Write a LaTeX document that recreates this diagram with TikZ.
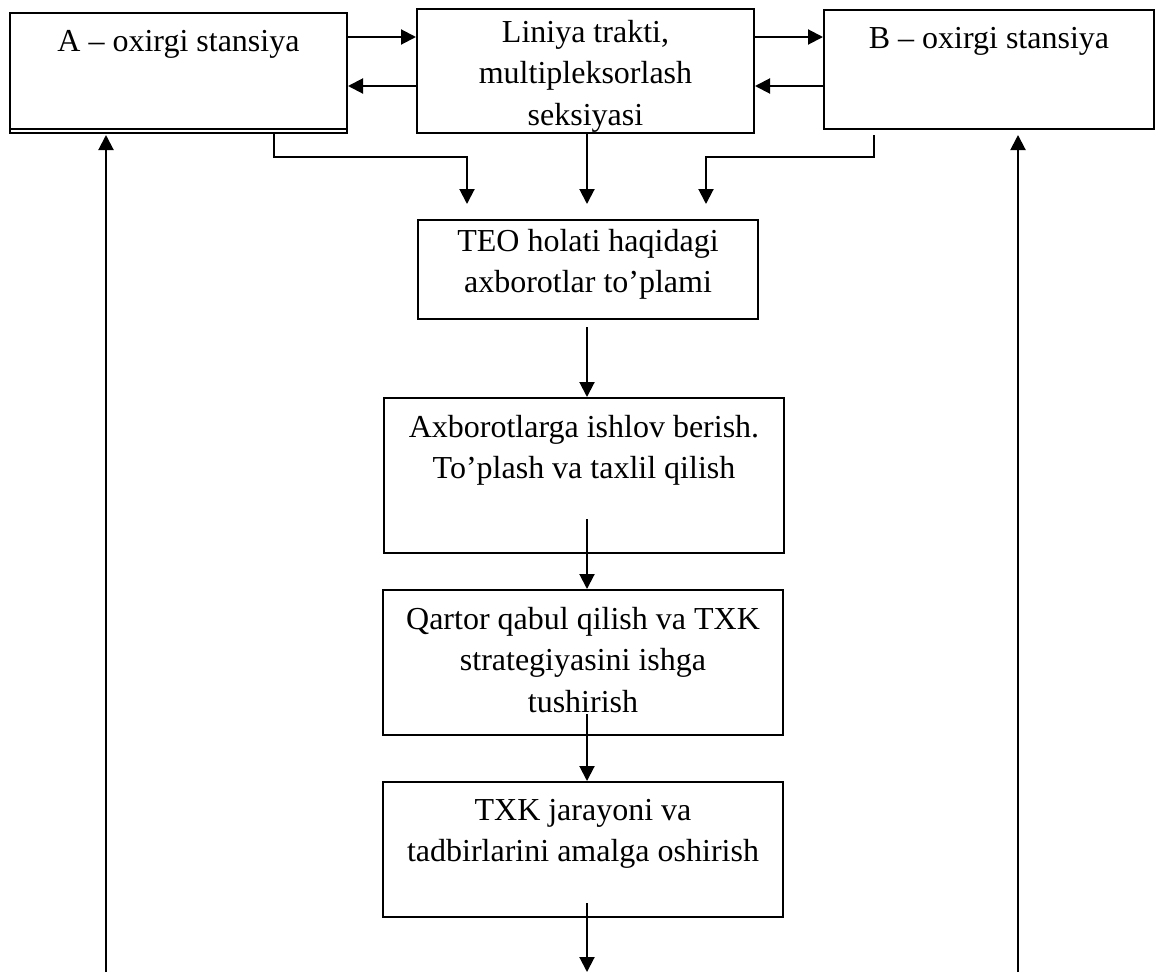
\documentclass[tikz,border=0pt]{standalone}
\usepackage{fontspec}
\setmainfont{Liberation Serif}
\usetikzlibrary{arrows.meta}
\tikzset{
blok/.style={ % plain rectangle of a block
draw,
line width=2pt,
inner sep=0pt},
yozuv/.style={ % text set at the top of a block
anchor=north,
align=center,
inner sep=0pt,
font=\fontsize{32}{41.5}\selectfont},
strelka/.style={ % connector with a filled head
draw,
line width=2pt,
-{Triangle[length=15pt,width=15pt]}}}

\begin{document}
\begin{tikzpicture}[x=1pt, y=-1pt]
\useasboundingbox (0,0) rectangle (1155,972);
% blocks
\node[blok, minimum width=337pt, minimum height=120pt] (A) at (178.5,73) {};
\node[blok, minimum width=337pt, minimum height=124pt] (L) at (585.5,71) {};
\node[blok, minimum width=330pt, minimum height=119pt] (B) at (989,69.5) {};
\node[blok, minimum width=340pt, minimum height=99pt] (TEO) at (588,269.5) {};
\node[blok, minimum width=400pt, minimum height=155pt] (Ax) at (584,475.5) {};
\node[blok, minimum width=400pt, minimum height=145pt] (Qa) at (583,662.5) {};
\node[blok, minimum width=400pt, minimum height=135pt] (TX) at (583,849.5) {};
\draw[line width=1.4pt] ([yshift=5pt]A.south west) -- ([yshift=5pt]A.south east);
% texts
\node[yozuv] (Atxt) at ([yshift=-18pt]A.north) {A – oxirgi stansiya};
\node[yozuv] (Ltxt) at ([yshift=-12pt]L.north) {Liniya trakti,\\multipleksorlash\\seksiyasi};
\node[yozuv] (Btxt) at ([yshift=-18pt]B.north) {B – oxirgi stansiya};
\node[yozuv] (TEOtxt) at ([yshift=-10pt]TEO.north) {TEO holati haqidagi\\axborotlar to’plami};
\node[yozuv] (Axtxt) at ([yshift=-18pt]Ax.north) {Axborotlarga ishlov berish.\\To’plash va taxlil qilish};
\node[yozuv] (Qatxt) at ([yshift=-18pt]Qa.north) {Qartor qabul qilish va TXK\\strategiyasini ishga\\tushirish};
\node[yozuv] (TXtxt) at ([yshift=-18pt]TX.north) {TXK jarayoni va\\tadbirlarini amalga oshirish};
% helper points
\coordinate (yuqori) at (0,37);
\coordinate (quyi) at (0,86);
\coordinate (a1) at (274,157);
\coordinate (b1) at (874,157);
\coordinate (ustun) at (587,0);
\coordinate (pastki) at (587,972);
\coordinate (chappast) at (106,972);
\coordinate (ongpast) at (1018,972);
% connectors between the stations and the line
\draw[strelka] (A.east |- yuqori) -- (L.west |- yuqori);
\draw[strelka] (L.west |- quyi) -- (A.east |- quyi);
\draw[strelka] (L.east |- yuqori) -- (B.west |- yuqori);
\draw[strelka] (B.west |- quyi) -- (L.east |- quyi);
% gathering of the data
\draw[strelka, shorten >=15pt] (A.south -| a1) -- (a1) -| ([xshift=-121pt]TEO.north);
\draw[strelka, shorten >=15pt] (L.south -| ustun) -- (TEO.north -| ustun);
\draw[strelka, shorten >=15pt] ([yshift=-5pt]B.south -| b1) -- (b1) -| ([xshift=118pt]TEO.north);
% main chain
\draw[strelka, shorten <=7pt] (TEO.south -| ustun) -- (Ax.north -| ustun);
\draw[strelka] ([yshift=35pt]Ax.south -| ustun) -- (Qa.north -| ustun);
\draw[strelka] ([yshift=22pt]Qa.south -| ustun) -- (TX.north -| ustun);
\draw[strelka] ([yshift=15pt]TX.south -| ustun) -- (pastki);
% feedback to the stations
\draw[strelka, shorten >=1pt] (chappast) -- (A.south -| chappast);
\draw[strelka, shorten >=5pt] (ongpast) -- (B.south -| ongpast);
\end{tikzpicture}
\end{document}
